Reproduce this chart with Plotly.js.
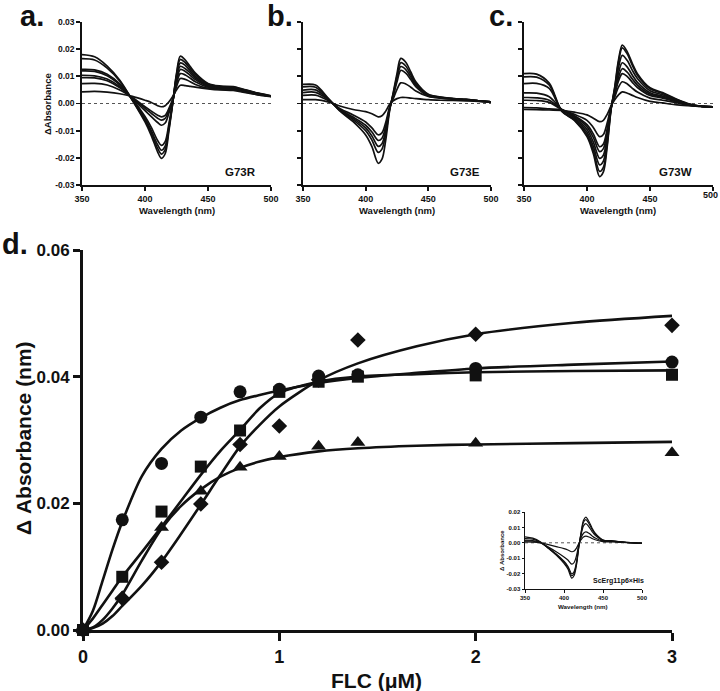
<!DOCTYPE html>
<html>
<head>
<meta charset="utf-8">
<script src="https://cdn.plot.ly/plotly-3.0.1.min.js"></script>
<style>html,body{margin:0;padding:0;background:#fff;overflow:hidden;}#plot{width:720px;height:691px;}</style>
</head>
<body>
<div id="plot"></div>
<script>
// ---------------- DATA ----------------
// Wavelength grid (nm) for the difference spectra
const WL = [350,360,370,380,390,400,405,410,413,416,419,422,425,428,432,436,440,450,460,470,480,490,500];

// Panel a: G73R spectra (ΔAbsorbance)
const G73R_1 = [0.0180,0.0172,0.0138,0.0086,0.0012,-0.0068,-0.0118,-0.0178,-0.0202,-0.0185,-0.0100,0.0000,0.0110,0.0174,0.0160,0.0135,0.0112,0.0074,0.0064,0.0062,0.0050,0.0038,0.0028];
const G73R_2 = [0.0165,0.0160,0.0130,0.0082,0.0012,-0.0062,-0.0108,-0.0165,-0.0186,-0.0170,-0.0092,0.0002,0.0105,0.0162,0.0150,0.0128,0.0106,0.0072,0.0063,0.0060,0.0049,0.0037,0.0028];
const G73R_3 = [0.0126,0.0124,0.0108,0.0072,0.0014,-0.0056,-0.0100,-0.0152,-0.0172,-0.0157,-0.0084,0.0004,0.0098,0.0149,0.0140,0.0120,0.0100,0.0068,0.0060,0.0058,0.0047,0.0036,0.0027];
const G73R_4 = [0.0120,0.0118,0.0102,0.0068,0.0016,-0.0048,-0.0088,-0.0136,-0.0154,-0.0140,-0.0074,0.0006,0.0090,0.0137,0.0128,0.0112,0.0094,0.0066,0.0058,0.0057,0.0046,0.0035,0.0027];
const G73R_5 = [0.0104,0.0102,0.0090,0.0062,0.0018,-0.0026,-0.0048,-0.0070,-0.0080,-0.0072,-0.0035,0.0010,0.0080,0.0125,0.0118,0.0103,0.0088,0.0063,0.0056,0.0055,0.0045,0.0034,0.0026];
const G73R_6 = [0.0095,0.0094,0.0084,0.0058,0.0020,-0.0018,-0.0036,-0.0054,-0.0061,-0.0055,-0.0026,0.0012,0.0072,0.0110,0.0105,0.0093,0.0080,0.0060,0.0054,0.0053,0.0044,0.0033,0.0026];
const G73R_7 = [0.0073,0.0074,0.0068,0.0050,0.0022,-0.0012,-0.0028,-0.0043,-0.0049,-0.0044,-0.0018,0.0016,0.0062,0.0092,0.0089,0.0080,0.0070,0.0056,0.0052,0.0050,0.0042,0.0032,0.0025];
const G73R_8 = [0.0043,0.0045,0.0042,0.0036,0.0026,0.0012,0.0004,-0.0008,-0.0012,-0.0008,0.0006,0.0026,0.0050,0.0067,0.0066,0.0063,0.0060,0.0054,0.0050,0.0048,0.0040,0.0032,0.0027];

// Panel b: G73E spectra
const G73E_1 = [0.0070,0.0068,0.0020,-0.0030,-0.0067,-0.0116,-0.0159,-0.0220,-0.0205,-0.0135,-0.0030,0.0040,0.0110,0.0166,0.0152,0.0116,0.0080,0.0034,0.0024,0.0018,0.0015,0.0010,0.0006];
const G73E_2 = [0.0061,0.0060,0.0018,-0.0028,-0.0060,-0.0100,-0.0135,-0.0180,-0.0168,-0.0112,-0.0025,0.0036,0.0100,0.0150,0.0138,0.0106,0.0074,0.0032,0.0023,0.0018,0.0015,0.0010,0.0006];
const G73E_3 = [0.0049,0.0050,0.0016,-0.0026,-0.0055,-0.0090,-0.0120,-0.0158,-0.0148,-0.0098,-0.0022,0.0032,0.0090,0.0136,0.0125,0.0097,0.0068,0.0030,0.0022,0.0017,0.0014,0.0010,0.0006];
const G73E_4 = [0.0040,0.0041,0.0014,-0.0024,-0.0050,-0.0080,-0.0105,-0.0136,-0.0128,-0.0085,-0.0019,0.0028,0.0080,0.0122,0.0112,0.0088,0.0062,0.0028,0.0021,0.0017,0.0014,0.0010,0.0006];
const G73E_5 = [0.0030,0.0031,0.0011,-0.0020,-0.0042,-0.0068,-0.0090,-0.0115,-0.0108,-0.0070,-0.0015,0.0018,0.0052,0.0076,0.0072,0.0060,0.0046,0.0026,0.0020,0.0016,0.0013,0.0009,0.0006];
const G73E_6 = [0.0014,0.0014,0.0006,-0.0010,-0.0022,-0.0030,-0.0038,-0.0049,-0.0045,-0.0028,-0.0004,0.0010,0.0018,0.0022,0.0022,0.0020,0.0018,0.0014,0.0012,0.0011,0.0010,0.0008,0.0006];

// Panel c: G73W spectra
const G73W_1 = [0.0110,0.0108,0.0075,-0.0028,-0.0062,-0.0122,-0.0184,-0.0269,-0.0252,-0.0160,-0.0025,0.0060,0.0160,0.0215,0.0190,0.0147,0.0110,0.0058,0.0040,0.0018,0.0000,-0.0010,-0.0012];
const G73W_2 = [0.0098,0.0097,0.0068,-0.0028,-0.0060,-0.0115,-0.0172,-0.0250,-0.0235,-0.0150,-0.0024,0.0057,0.0152,0.0205,0.0182,0.0140,0.0104,0.0054,0.0037,0.0016,-0.0001,-0.0010,-0.0012];
const G73W_3 = [0.0073,0.0074,0.0056,-0.0027,-0.0056,-0.0106,-0.0158,-0.0226,-0.0212,-0.0135,-0.0022,0.0050,0.0132,0.0177,0.0158,0.0122,0.0092,0.0047,0.0032,0.0014,-0.0002,-0.0010,-0.0012];
const G73W_4 = [0.0039,0.0038,0.0025,-0.0022,-0.0052,-0.0096,-0.0142,-0.0202,-0.0190,-0.0120,-0.0020,0.0043,0.0112,0.0150,0.0134,0.0104,0.0078,0.0040,0.0027,0.0012,-0.0003,-0.0010,-0.0012];
const G73W_5 = [0.0022,0.0021,0.0012,-0.0022,-0.0048,-0.0086,-0.0125,-0.0177,-0.0166,-0.0105,-0.0018,0.0037,0.0096,0.0128,0.0115,0.0090,0.0068,0.0035,0.0023,0.0010,-0.0004,-0.0010,-0.0012];
const G73W_6 = [0.0012,0.0011,0.0004,-0.0023,-0.0045,-0.0078,-0.0112,-0.0159,-0.0149,-0.0094,-0.0017,0.0032,0.0083,0.0110,0.0099,0.0078,0.0059,0.0030,0.0020,0.0008,-0.0005,-0.0010,-0.0012];
const G73W_7 = [-0.0015,-0.0016,-0.0020,-0.0024,-0.0040,-0.0062,-0.0088,-0.0122,-0.0114,-0.0072,-0.0014,0.0024,0.0060,0.0080,0.0072,0.0056,0.0042,0.0020,0.0012,0.0004,-0.0006,-0.0011,-0.0012];
const G73W_8 = [-0.0022,-0.0023,-0.0024,-0.0025,-0.0032,-0.0042,-0.0054,-0.0067,-0.0062,-0.0040,-0.0010,0.0014,0.0032,0.0043,0.0038,0.0030,0.0022,0.0008,0.0002,-0.0004,-0.0008,-0.0011,-0.0012];

// Inset: ScErg11p6xHis spectra
const SC_1 = [0.0039,0.0030,0.0005,-0.0036,-0.0079,-0.0133,-0.0170,-0.0229,-0.0212,-0.0145,-0.0028,0.0070,0.0146,0.0167,0.0138,0.0095,0.0062,0.0018,0.0014,0.0008,0.0003,0.0000,-0.0004];
const SC_2 = [0.0028,0.0024,0.0003,-0.0035,-0.0076,-0.0126,-0.0160,-0.0214,-0.0198,-0.0135,-0.0024,0.0064,0.0133,0.0150,0.0125,0.0087,0.0057,0.0017,0.0013,0.0007,0.0003,0.0000,-0.0004];
const SC_3 = [0.0017,0.0015,0.0001,-0.0034,-0.0073,-0.0120,-0.0152,-0.0201,-0.0186,-0.0126,-0.0020,0.0054,0.0110,0.0124,0.0104,0.0073,0.0048,0.0015,0.0012,0.0006,0.0002,0.0000,-0.0004];
const SC_4 = [0.0012,0.0010,0.0000,-0.0028,-0.0058,-0.0092,-0.0112,-0.0139,-0.0128,-0.0084,-0.0012,0.0034,0.0062,0.0071,0.0062,0.0045,0.0031,0.0011,0.0009,0.0005,0.0002,0.0000,-0.0004];
const SC_5 = [0.0006,0.0005,0.0000,-0.0012,-0.0025,-0.0038,-0.0047,-0.0058,-0.0054,-0.0035,-0.0004,0.0020,0.0037,0.0043,0.0038,0.0028,0.0020,0.0008,0.0006,0.0004,0.0001,-0.0001,-0.0004];

// Panel d: titration (FLC, µM) vs ΔAbsorbance
const FLC = [0,0.2,0.4,0.6,0.8,1.0,1.2,1.4,2,3];
const CIRCLE   = [0,0.0174,0.0263,0.0336,0.0376,0.0380,0.0401,0.0403,0.0413,0.0423];
const SQUARE   = [0,0.0084,0.0187,0.0258,0.0315,0.0376,0.0392,0.0400,0.0402,0.0403];
const TRIANGLE = [0,0.0052,0.0162,0.0219,0.0257,0.0274,0.0290,0.0296,0.0295,0.0280];
const DIAMOND  = [0,0.0050,0.0107,0.0199,0.0293,0.0322,0.0395,0.0458,0.0467,0.0481];

// Fitted curves
const FIT_X = [0,0.05,0.1,0.15,0.2,0.3,0.4,0.5,0.6,0.7,0.8,0.9,1.0,1.2,1.4,1.7,2.0,2.5,3.0];
const FIT_CIRCLE   = [0,0.0030,0.0078,0.0127,0.0171,0.0243,0.0286,0.0315,0.0335,0.0351,0.0363,0.0371,0.0378,0.0390,0.0398,0.0406,0.0413,0.0419,0.0424];
const FIT_SQUARE   = [0,0.0018,0.0040,0.0062,0.0084,0.0123,0.0163,0.0204,0.0245,0.0283,0.0316,0.0350,0.0374,0.0392,0.0400,0.0404,0.0407,0.0409,0.0410];
const FIT_TRIANGLE = [0,0.0004,0.0016,0.0034,0.0056,0.0110,0.0160,0.0196,0.0222,0.0242,0.0256,0.0266,0.0273,0.0282,0.0287,0.0291,0.0293,0.0295,0.0297];
const FIT_DIAMOND  = [0,0.0003,0.0010,0.0022,0.0038,0.0070,0.0108,0.0152,0.0198,0.0245,0.0290,0.0324,0.0353,0.0394,0.0421,0.0448,0.0467,0.0485,0.0496];

const SPEC_TICKS = [-0.03,-0.02,-0.01,0,0.01,0.02,0.03];
const SPEC_TICKTEXT = ['-0.03','-0.02','-0.01','0.00','0.01','0.02','0.03'];
const WL_TICKS = [350,400,450,500];
const WL_TICKTEXT = ['350','400','450','500'];
const WL_TICKTEXT_C = ['350','400','450',' '];   // the last label of panel c sits on the page edge; drawn as text below
const D_YTICKS = [0,0.02,0.04,0.06];
const D_XTICKS = [0,1,2,3];

// ---------------- LAYOUT HELPERS ----------------
const W = 720, H = 691;
const FONT = 'Liberation Sans, Arial, Helvetica, sans-serif';
const INK = '#111';
const fx = p => p / W;
const fy = p => 1 - p / H;

const traces = [];
function spectra(list, xa, ya, w) {
  list.forEach(y => traces.push({
    x: WL, y: y, xaxis: xa, yaxis: ya, type: 'scatter', mode: 'lines',
    line: {color: INK, width: w, shape: 'spline', smoothing: 0.9},
    hoverinfo: 'skip', showlegend: false
  }));
}
spectra([G73R_1,G73R_2,G73R_3,G73R_4,G73R_5,G73R_6,G73R_7,G73R_8], 'x2', 'y2', 1.7);
spectra([G73E_1,G73E_2,G73E_3,G73E_4,G73E_5,G73E_6], 'x3', 'y3', 1.7);
spectra([G73W_1,G73W_2,G73W_3,G73W_4,G73W_5,G73W_6,G73W_7,G73W_8], 'x4', 'y4', 1.7);
spectra([SC_1,SC_2,SC_3,SC_4,SC_5], 'x5', 'y5', 1.2);

[FIT_CIRCLE, FIT_SQUARE, FIT_TRIANGLE, FIT_DIAMOND].forEach(f => traces.push({
  x: FIT_X, y: f, xaxis: 'x', yaxis: 'y', type: 'scatter', mode: 'lines',
  line: {color: INK, width: 2.6, shape: 'spline', smoothing: 0.8},
  hoverinfo: 'skip', showlegend: false, cliponaxis: false
}));
[[CIRCLE,'circle',13],[SQUARE,'square',12],[TRIANGLE,'triangle-up',13],[DIAMOND,'diamond',12]].forEach(([y,sym,sz]) => traces.push({
  x: FLC, y: y, xaxis: 'x', yaxis: 'y', type: 'scatter', mode: 'markers',
  marker: {symbol: sym, size: sz, color: INK, line: {width: 0}},
  hoverinfo: 'skip', showlegend: false, cliponaxis: false
}));

function specX(dom, anchor, fs, tl, lw, tt) {
  return {domain: dom, anchor: anchor, range: [350,500], tickvals: WL_TICKS, ticktext: tt || WL_TICKTEXT,
    showline: true, linecolor: INK, linewidth: lw, ticks: 'outside', ticklen: tl, tickwidth: lw, tickcolor: INK,
    showgrid: false, zeroline: false, tickfont: {family: FONT, size: fs, color: INK, weight: 700}, fixedrange: true};
}
function specY(dom, anchor, fs, tl, lw, labels) {
  return {domain: dom, anchor: anchor, range: [-0.03,0.03], tickvals: SPEC_TICKS, ticktext: SPEC_TICKTEXT,
    showticklabels: labels, showline: true, linecolor: INK, linewidth: lw, ticks: 'outside', ticklen: tl, tickwidth: lw, tickcolor: INK,
    showgrid: false, zeroline: false, tickfont: {family: FONT, size: fs, color: INK, weight: 700}, fixedrange: true};
}

const YA = [fy(185), fy(22)];
const layout = {
  width: W, height: H, margin: {l:0, r:0, t:0, b:0}, paper_bgcolor: '#fff', plot_bgcolor: 'rgba(0,0,0,0)',
  showlegend: false,
  xaxis: {domain: [fx(83), fx(672)], anchor: 'y', range: [0,3], tickvals: D_XTICKS, ticktext: D_XTICKS.map(String),
    showline: true, linecolor: INK, linewidth: 3, ticks: 'outside', ticklen: 8, tickwidth: 3, tickcolor: INK,
    showgrid: false, zeroline: false, tickfont: {family: FONT, size: 18, color: INK, weight: 700}, fixedrange: true},
  yaxis: {domain: [fy(630), fy(250)], anchor: 'x', range: [0,0.06], tickvals: D_YTICKS, ticktext: D_YTICKS.map(v => v.toFixed(2)),
    showline: true, linecolor: INK, linewidth: 3, ticks: 'outside', ticklen: 7, tickwidth: 3, tickcolor: INK,
    showgrid: false, zeroline: false, tickfont: {family: FONT, size: 17, color: INK, weight: 700}, fixedrange: true},
  xaxis2: specX([fx(82), fx(271)], 'y2', 9, 4, 1.8),
  yaxis2: specY(YA, 'x2', 8.5, 4, 1.8, true),
  xaxis3: specX([fx(303), fx(491)], 'y3', 9, 4, 1.8),
  yaxis3: specY(YA, 'x3', 8.5, 4, 1.8, false),
  xaxis4: specX([fx(524), fx(713)], 'y4', 9, 4, 1.8, WL_TICKTEXT_C),
  yaxis4: specY(YA, 'x4', 8.5, 4, 1.8, false),
  xaxis5: specX([fx(525), fx(642)], 'y5', 6, 2.5, 1),
  yaxis5: Object.assign(specY([fy(589), fy(512)], 'x5', 6, 2.5, 1, true), {range: [-0.03,0.02],
    tickvals: [-0.03,-0.02,-0.01,0,0.01,0.02], ticktext: ['-0.03','-0.02','-0.01','0.00','0.01','0.02']}),
  shapes: [['x2','y2'],['x3','y3'],['x4','y4'],['x5','y5']].map(([xr,yr]) => ({
    type: 'line', xref: xr, yref: yr, x0: 350, x1: 500, y0: 0, y1: 0,
    line: {color: '#555', width: 1, dash: 'dot'}, layer: 'below'})),
  annotations: []
};

function ann(text, px, py, size, opts) {
  layout.annotations.push(Object.assign({
    text: text, xref: 'paper', yref: 'paper', x: fx(px), y: fy(py), xanchor: 'center', yanchor: 'middle',
    showarrow: false, font: {family: FONT, size: size, color: INK, weight: 700}
  }, opts || {}));
}
ann('a.', 18, 16, 29, {xanchor: 'left'});
ann('b.', 265, 16, 29, {xanchor: 'left'});
ann('c.', 487, 16, 29, {xanchor: 'left'});
ann('d.', 0, 244, 29, {xanchor: 'left'});
ann('ΔAbsorbance', 48, 104, 9.5, {textangle: -90});
ann('Wavelength (nm)', 177, 210, 9.5);
ann('Wavelength (nm)', 397, 210, 9.5);
ann('Wavelength (nm)', 618, 210, 9.5);
ann('G73R', 240, 172, 11.5);
ann('G73E', 465, 172, 11.5);
ann('G73W', 675, 172, 11.5);
ann('Δ Absorbance (nm)', 23, 438, 21, {textangle: -90});
ann('FLC (μM)', 376, 680, 21);
ann('Δ Absorbance', 502, 551, 6, {textangle: -90});
ann('Wavelength (nm)', 583, 606, 6.2);
ann('ScErg11p6×His', 618, 581, 7);
// last tick label of panel c, tied to the axis value 500
layout.annotations.push({text: String(WL_TICKS[3]), xref: 'x4', x: WL_TICKS[3], yref: 'paper', y: fy(195),
  xanchor: 'right', yanchor: 'middle', xshift: 7, showarrow: false,
  font: {family: FONT, size: 9, color: INK, weight: 700}});

Plotly.newPlot('plot', traces, layout, {staticPlot: true, displayModeBar: false});
</script>
</body>
</html>
